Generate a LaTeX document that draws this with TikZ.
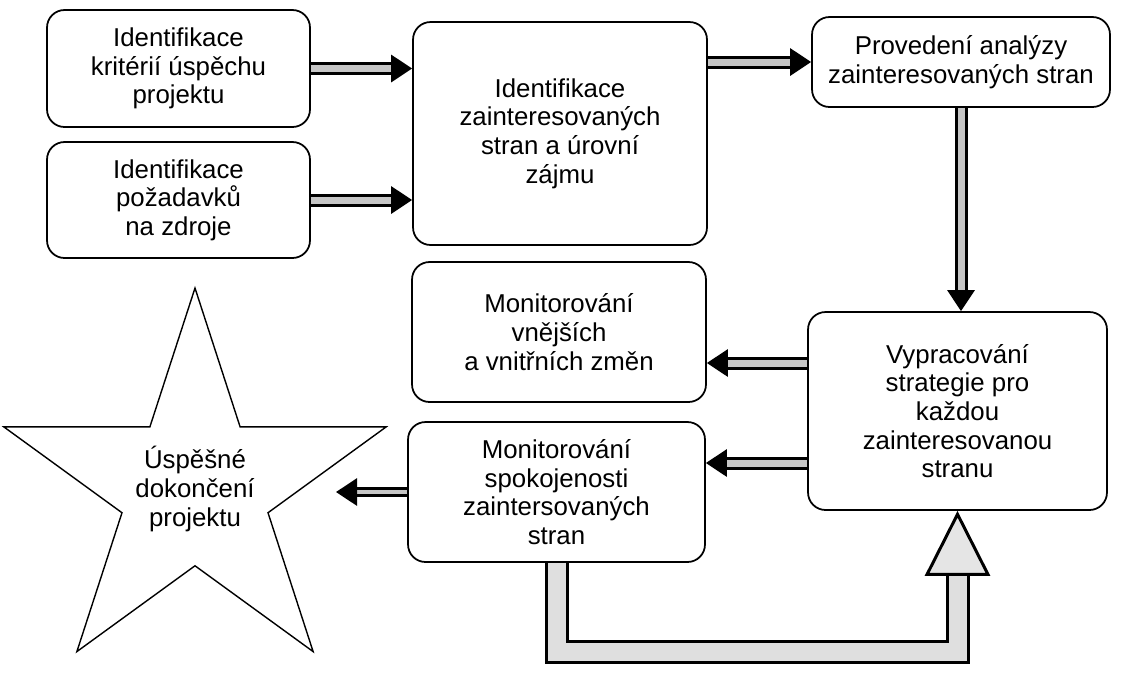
\documentclass[tikz,border=0pt]{standalone}
\usepackage{fontspec}
\setmainfont{Liberation Sans}
\usetikzlibrary{arrows.meta,shapes.geometric}

\tikzset{
  task/.style={draw, line width=1pt, rounded corners=0.35cm, align=center,
    inner sep=0pt, font=\fontsize{14.7}{16.3}\selectfont},
  goal/.style={draw, line width=0.8pt, star, star points=5, star point ratio=2.618,
    minimum size=8.04cm, inner sep=0pt},
  goaltext/.style={align=center, font=\fontsize{14.7}{16.3}\selectfont},
  fat/.style={draw=black, line width=0.06cm, double=gray!45, double distance=0.14cm,
    -{Triangle[length=0.42cm, width=0.54cm]}},
  fatthin/.style={fat, double distance=0.08cm},
  bigfat/.style={draw=black, line width=0.06cm, double=gray!25, double distance=0.36cm,
    line join=miter, -{Triangle[length=1.3cm, width=1.3cm, fill=gray!20]}}
}

\begin{document}
\begin{tikzpicture}[x=0.02cm, y=-0.02cm]
\useasboundingbox (0,0) rectangle (1131,681);

% boxes
\node[task, minimum width=5.26cm, minimum height=2.34cm] (krit) at (178.5,68.5)
  {Identifikace\\kritérií úspěchu\\projektu};
\node[task, minimum width=5.26cm, minimum height=2.32cm] (zdroj) at (178.5,200)
  {Identifikace\\požadavků\\na zdroje};
\node[task, minimum width=5.88cm, minimum height=4.46cm] (ident) at (560,133.5)
  {Identifikace\\zainteresovaných\\stran a úrovní\\zájmu};
\node[task, minimum width=5.96cm, minimum height=1.8cm] (anal) at (961,62)
  {Provedení analýzy\\zainteresovaných stran};
\node[task, minimum width=5.88cm, minimum height=2.8cm] (zmeny) at (559,332)
  {Monitorování\\vnějších\\a vnitřních změn};
\node[task, minimum width=5.98cm, minimum height=3.96cm] (strat) at (957.5,411)
  {Vypracování\\strategie pro\\každou\\zainteresovanou\\stranu};
\node[task, minimum width=5.94cm, minimum height=2.8cm] (spok) at (556.5,492)
  {Monitorování\\spokojenosti\\zaintersovaných\\stran};

% goal
\node[goal, label={[goaltext]center:Úspěšné\\dokončení\\projektu}] (cil) at (195,489) {};
\coordinate (cilhrot) at (336,492);

% arrows
\draw[fat] (krit.east) -- (krit.east -| ident.west);
\draw[fat] (zdroj.east) -- (zdroj.east -| ident.west);
\draw[fat] (anal.west -| ident.east) -- (anal.west);
\draw[fat] (anal.south) -- (anal.south |- strat.north);
\draw[fat] (strat.west |- 0,363) -- (zmeny.east |- 0,363);
\draw[fat] (strat.west |- 0,463) -- (spok.east |- 0,463);
\draw[fatthin] (spok.west) -- (cilhrot);
\draw[bigfat] (spok.south) -- ++(0,89) -| (strat.south);

\end{tikzpicture}
\end{document}
